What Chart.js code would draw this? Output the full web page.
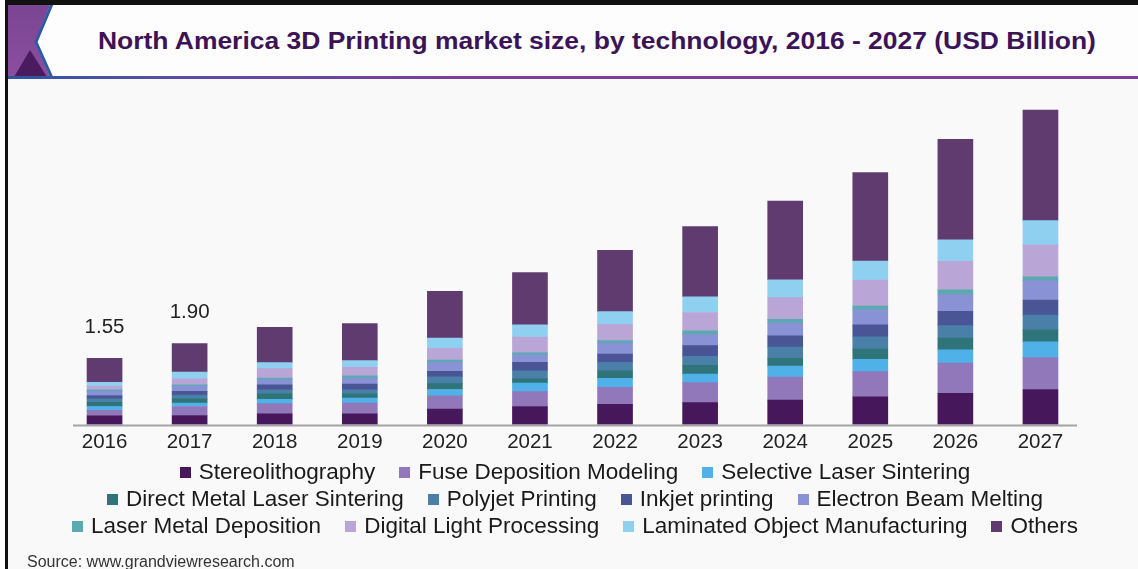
<!DOCTYPE html>
<html>
<head>
<meta charset="utf-8">
<title>North America 3D Printing market size</title>
<script src="https://cdn.jsdelivr.net/npm/chart.js@4.4.1/dist/chart.umd.min.js"></script>
<style>
  html, body { margin: 0; padding: 0; background: #fff; }
  body { width: 1138px; height: 569px; position: relative; overflow: hidden; font-family: "Liberation Sans", Arial, sans-serif; }
  #frame { position: absolute; left: 5px; top: 0; width: 1133px; height: 569px; box-sizing: border-box;
           border-top: 5px solid #111; border-left: 3px solid #111; background: #f9f9f9; }
  #header { position: absolute; left: 8px; top: 5px; width: 1130px; height: 71px; background: #fdfdfd; }
  #rule { position: absolute; left: 8px; top: 76px; width: 1130px; height: 3px;
          background: linear-gradient(90deg, #2f55a0 0%, #5a4ea8 15%, #7d3f9c 40%, #7d3f9c 100%); }
  #badge { position: absolute; left: 8px; top: 5px; }
  #title { position: absolute; left: 97px; top: 28px; width: 1000px; text-align: center; line-height: 26px; }
  #title span { display: inline-block; font-size: 23px; font-weight: bold; color: #3c1357; transform: scaleX(1.15); white-space: nowrap; }
  #chart { position: absolute; left: 0; top: 0; }
  #legend { position: absolute; left: 6px; top: 458px; width: 1138px; font-size: 22.5px; color: #1a1a1a; line-height: 27px; }
  .row { text-align: center; white-space: nowrap; }
  .item { display: inline-block; margin: 0 12px; }
  .box { display: inline-block; width: 11px; height: 11px; margin-right: 8px; vertical-align: 1px; }
  #source { position: absolute; left: 27px; top: 553px; font-size: 16px; color: #333; line-height: 18px; }
</style>
</head>
<body>
<div id="frame"></div>
<div id="header"></div>
<svg id="badge" width="50" height="72" viewBox="8 5 50 72">
  <defs>
    <linearGradient id="pg" x1="0" y1="0" x2="0" y2="1">
      <stop offset="0" stop-color="#7a4592"/>
      <stop offset="1" stop-color="#8a4f9f"/>
    </linearGradient>
  </defs>
  <polygon points="8,5 50,5 35,42 50,77 8,77" fill="url(#pg)"/>
  <polygon points="14,77 47,77 30,50" fill="#4a1b5e"/>
  <polyline points="52,4 36,42 52,78" fill="none" stroke="#2d5aa0" stroke-width="3"/>
</svg>
<div id="rule"></div>
<div id="title"><span>North America 3D Printing market size, by technology, 2016 - 2027 (USD Billion)</span></div>
<canvas id="chart" width="1138" height="569"></canvas>
<div id="legend"></div>
<div id="source">Source: www.grandviewresearch.com</div>

<script>
const years = ['2016', '2017', '2018', '2019', '2020', '2021', '2022', '2023', '2024', '2025', '2026', '2027'];

// USD billion per technology, 2016 - 2027
const stereolithography    = [0.20, 0.21, 0.25, 0.25, 0.36, 0.42, 0.47, 0.51, 0.57, 0.65, 0.73, 0.82];
const fuseDeposition       = [0.13, 0.21, 0.24, 0.25, 0.31, 0.35, 0.40, 0.47, 0.54, 0.59, 0.71, 0.75];
const selectiveLaser       = [0.09, 0.08, 0.10, 0.12, 0.15, 0.20, 0.21, 0.20, 0.26, 0.29, 0.31, 0.37];
const directMetalLaser     = [0.10, 0.10, 0.13, 0.10, 0.14, 0.10, 0.18, 0.21, 0.18, 0.24, 0.28, 0.28];
const polyjetPrinting      = [0.08, 0.09, 0.09, 0.09, 0.16, 0.19, 0.20, 0.21, 0.27, 0.29, 0.29, 0.35];
const inkjetPrinting       = [0.08, 0.09, 0.12, 0.14, 0.13, 0.20, 0.19, 0.25, 0.26, 0.28, 0.34, 0.35];
const electronBeamMelting  = [0.10, 0.12, 0.12, 0.13, 0.21, 0.18, 0.26, 0.26, 0.30, 0.35, 0.39, 0.46];
const laserMetalDeposition = [0.03, 0.03, 0.04, 0.06, 0.05, 0.05, 0.06, 0.09, 0.09, 0.09, 0.11, 0.09];
const digitalLight         = [0.09, 0.14, 0.22, 0.20, 0.28, 0.36, 0.38, 0.43, 0.51, 0.61, 0.67, 0.75];
const laminatedObject      = [0.09, 0.16, 0.14, 0.16, 0.24, 0.29, 0.30, 0.37, 0.42, 0.45, 0.51, 0.57];
const others               = [0.56, 0.67, 0.83, 0.87, 1.10, 1.23, 1.44, 1.65, 1.85, 2.08, 2.36, 2.60];

const seriesNames = [
  'Stereolithography', 'Fuse Deposition Modeling', 'Selective Laser Sintering',
  'Direct Metal Laser Sintering', 'Polyjet Printing', 'Inkjet printing', 'Electron Beam Melting',
  'Laser Metal Deposition', 'Digital Light Processing', 'Laminated Object Manufacturing', 'Others'
];
const seriesValues = [
  stereolithography, fuseDeposition, selectiveLaser, directMetalLaser, polyjetPrinting,
  inkjetPrinting, electronBeamMelting, laserMetalDeposition, digitalLight, laminatedObject, others
];
const seriesColors = [
  '#46175a', '#9078bb', '#4fb1e8', '#2e7478', '#4a80a8', '#4a5596',
  '#8892d4', '#5aaab0', '#b9a6d6', '#8fd0f0', '#5f3b6f'
];

// years that carry a total above the bar
const labelledYears = ['2016', '2017'];
// legend items per row
const legendRows = [3, 4, 4];

const datasets = seriesNames.map((name, i) => ({
  label: name,
  data: seriesValues[i],
  backgroundColor: seriesColors[i],
  borderWidth: 0,
  barThickness: 35
}));

// grey baseline, a little shorter than the plot area
const baseline = {
  id: 'baseline',
  beforeDatasetsDraw(chart) {
    const { ctx, chartArea } = chart;
    ctx.save();
    ctx.strokeStyle = '#a3a3a3';
    ctx.lineWidth = 2;
    ctx.beginPath();
    ctx.moveTo(chartArea.left + 11, chartArea.bottom + 1);
    ctx.lineTo(chartArea.right - 6, chartArea.bottom + 1);
    ctx.stroke();
    ctx.restore();
  }
};

const totalLabels = {
  id: 'totalLabels',
  afterDatasetsDraw(chart) {
    const ctx = chart.ctx;
    const topMeta = chart.getDatasetMeta(chart.data.datasets.length - 1);
    ctx.save();
    ctx.font = '20.5px "Liberation Sans", Arial, sans-serif';
    ctx.fillStyle = '#222';
    ctx.textAlign = 'center';
    ctx.textBaseline = 'bottom';
    labelledYears.forEach(year => {
      const i = years.indexOf(year);
      const total = seriesValues.reduce((sum, s) => sum + s[i], 0);
      const bar = topMeta.data[i];
      ctx.fillText(total.toFixed(2), bar.x, bar.y - 21);
    });
    ctx.restore();
  }
};

new Chart(document.getElementById('chart'), {
  type: 'bar',
  data: { labels: years, datasets: datasets },
  plugins: [baseline, totalLabels],
  options: {
    responsive: false,
    animation: false,
    layout: { padding: { left: 62, right: 55, top: 84, bottom: 108 } },
    plugins: { legend: { display: false }, tooltip: { enabled: false } },
    scales: {
      x: {
        stacked: true,
        grid: { display: false, drawTicks: false },
        border: { display: false },
        ticks: { color: '#222', padding: 6, font: { family: '"Liberation Sans", Arial, sans-serif', size: 20.5 } }
      },
      y: { stacked: true, display: false, min: 0, max: 8 }
    }
  }
});

// legend drawn as html rows
const legend = document.getElementById('legend');
let idx = 0;
legendRows.forEach(count => {
  const row = document.createElement('div');
  row.className = 'row';
  for (let k = 0; k < count; k++, idx++) {
    row.insertAdjacentHTML('beforeend',
      `<span class="item"><span class="box" style="background:${seriesColors[idx]}"></span>${seriesNames[idx]}</span>`);
  }
  legend.appendChild(row);
});
</script>
</body>
</html>
